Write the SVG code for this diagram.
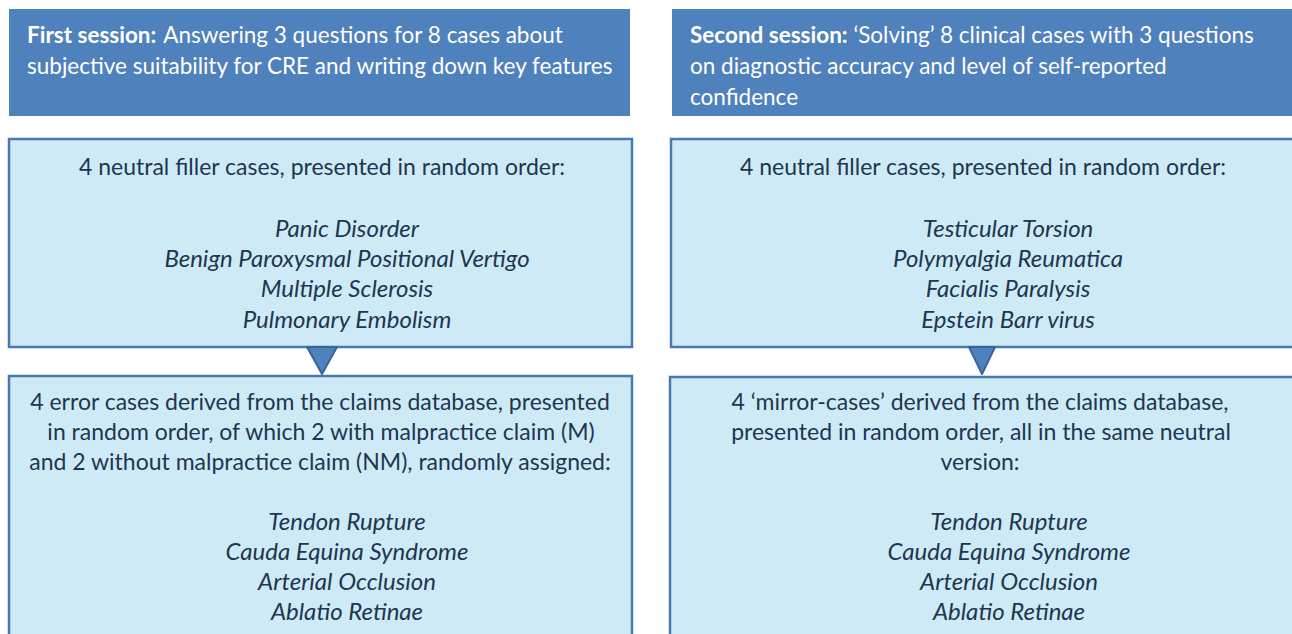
<svg xmlns="http://www.w3.org/2000/svg" width="1292" height="634" viewBox="0 0 1292 634">
<style>
.hdr{fill:#4F81BD;}
.htxt{font-family:Lato,"Open Sans","Liberation Sans",sans-serif;font-size:22.5px;fill:#FFFFFF;}
.b{font-weight:bold;}
.box{fill:#CFEAF7;stroke:#4A78B0;stroke-width:2.5;}
.t{font-family:Lato,"Open Sans","Liberation Sans",sans-serif;font-size:23px;fill:#1E3650;text-anchor:middle;}
.i{font-style:italic;font-size:24px;}
.arr{fill:#4F81BD;stroke:#3A6499;stroke-width:2;stroke-linejoin:round;}
</style>
<rect width="1292" height="634" fill="#FFFFFF"/>
<g id="header-first">
<rect class="hdr" x="9" y="9" width="621" height="107"/>
<text class="htxt" x="27" y="43"><tspan class="b">First session:</tspan><tspan dx="7">Answering 3 questions for 8 cases about</tspan></text>
<text class="htxt" x="27" y="74">subjective suitability for CRE and writing down key features</text>
</g>
<g id="header-second">
<rect class="hdr" x="672" y="9" width="630" height="107"/>
<text class="htxt" x="690" y="43"><tspan class="b">Second session:</tspan> ‘Solving’ 8 clinical cases with 3 questions</text>
<text class="htxt" x="690" y="74">on diagnostic accuracy and level of self-reported</text>
<text class="htxt" x="690" y="105">confidence</text>
</g>
<g id="first-neutral">
<rect class="box" x="9" y="139" width="623" height="208"/>
<text class="t" x="322" y="175">4 neutral filler cases, presented in random order:</text>
<text class="t i" x="347" y="237">Panic Disorder</text>
<text class="t i" x="347" y="267">Benign Paroxysmal Positional Vertigo</text>
<text class="t i" x="347" y="297">Multiple Sclerosis</text>
<text class="t i" x="347" y="328">Pulmonary Embolism</text>
</g>
<g id="first-error">
<rect class="box" x="9" y="376" width="623" height="270"/>
<text class="t" x="320" y="410">4 error cases derived from the claims database, presented</text>
<text class="t" x="321" y="440">in random order, of which 2 with malpractice claim (M)</text>
<text class="t" x="320" y="470">and 2 without malpractice claim (NM), randomly assigned:</text>
<text class="t i" x="347" y="530">Tendon Rupture</text>
<text class="t i" x="347" y="560">Cauda Equina Syndrome</text>
<text class="t i" x="347" y="590">Arterial Occlusion</text>
<text class="t i" x="347" y="620">Ablatio Retinae</text>
</g>
<g id="second-neutral">
<rect class="box" x="671" y="139" width="640" height="208"/>
<text class="t" x="983" y="175">4 neutral filler cases, presented in random order:</text>
<text class="t i" x="1008" y="237">Testicular Torsion</text>
<text class="t i" x="1008" y="267">Polymyalgia Reumatica</text>
<text class="t i" x="1008" y="297">Facialis Paralysis</text>
<text class="t i" x="1008" y="328">Epstein Barr virus</text>
</g>
<g id="second-mirror">
<rect class="box" x="670" y="377" width="640" height="270"/>
<text class="t" x="980" y="410">4 ‘mirror-cases’ derived from the claims database,</text>
<text class="t" x="981" y="440">presented in random order, all in the same neutral</text>
<text class="t" x="980" y="470">version:</text>
<text class="t i" x="1009" y="530">Tendon Rupture</text>
<text class="t i" x="1009" y="560">Cauda Equina Syndrome</text>
<text class="t i" x="1009" y="590">Arterial Occlusion</text>
<text class="t i" x="1009" y="620">Ablatio Retinae</text>
</g>
<g id="connectors">
<polygon class="arr" points="307,347 337,347 322,374"/>
<polygon class="arr" points="969,347 995,347 982,374"/>
</g>
</svg>
